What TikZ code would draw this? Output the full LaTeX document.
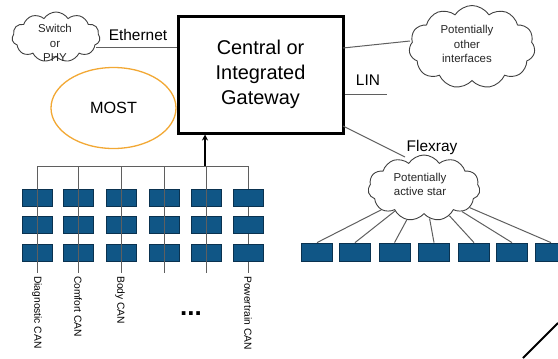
\documentclass[tikz,border=0pt]{standalone}
\usepackage{fontspec}
\setmainfont{Liberation Sans}
\usetikzlibrary{shapes.symbols,shapes.geometric,arrows.meta,calc}
\definecolor{ecublue}{RGB}{16,86,134}
\definecolor{ecuedge}{RGB}{10,50,80}
\definecolor{wire}{RGB}{95,95,95}
\definecolor{mostorange}{RGB}{242,168,52}
\newcommand{\fsz}[2]{\fontsize{#1}{#2}\selectfont}

\begin{document}
\begin{tikzpicture}[x=1bp,y=-1bp,
  ecu/.style={draw=ecuedge, fill=ecublue, line width=0.8bp,
    minimum width=30bp, minimum height=17bp, inner sep=0pt},
  wireline/.style={draw=wire, line width=1bp},
  puff/.style={cloud, draw=black!75, line width=0.9bp, cloud puffs=11,
    cloud puff arc=115, cloud ignores aspect, inner sep=0pt},
  puffText/.style={align=center, font=\fsz{11.5}{14.5}, text=black!85, inner sep=0pt},
  tag/.style={font=\fsz{15.5}{18}, inner sep=0pt},
  busLabel/.style={rotate=-90, anchor=west, font=\fsz{10.3}{12}, inner sep=2bp}
]
\useasboundingbox (0,0) rectangle (558,358);

% gateway
\node[draw, line width=3bp, minimum width=165bp, minimum height=117bp,
      align=center, font=\fsz{20}{25}] (gw) at (260.5,74.5)
      {Central or\\Integrated\\Gateway};

% Ethernet switch
\node[puff, minimum width=88bp, minimum height=50bp] (sw) at (56,37) {};
\node[puffText] (swt) at (55,43) {Switch\\or\\PHY};
\coordinate (ethA) at (96,47);
\draw[wireline] (ethA) -- (ethA -| gw.west);
\node[tag] (eth) at (138,35) {Ethernet};

% MOST ring
\node[ellipse, draw=mostorange, line width=1.3bp, minimum width=125bp,
      minimum height=81bp, font=\fsz{16.3}{18}] (most) at (113.5,108) {MOST};

% other interfaces
\node[puff, minimum width=126bp, minimum height=83bp] (oth) at (472,47) {};
\node[puffText] (otht) at (467,44) {Potentially\\other\\interfaces};
\coordinate (othA) at (343,48);
\coordinate (othB) at (410,41);
\draw[wireline] (othA) -- (othB);

% LIN
\coordinate (linB) at (387,94);
\draw[wireline] (linB -| gw.east) -- (linB);
\node[tag] (lin) at (368,80) {LIN};

% Flexray
\node[puff, minimum width=112bp, minimum height=66bp] (star) at (424,188) {};
\node[puffText] (start) at (420,184.5) {Potentially\\active star};
\coordinate (flxA) at (343,126);
\coordinate (flxB) at (405,157);
\draw[wireline] (flxA) -- (flxB);
\node[tag] (flx) at (432,148) {Flexray};

\foreach \i/\x in {1/317,2/355,3/394.5,4/434,5/474,6/512,7/551}{
  \node[ecu, minimum width=31bp, minimum height=18bp] (r\i) at (\x,252) {};
  \draw[wireline] (star) -- (r\i.north);
}

% CAN buses
\coordinate (busL) at (37,166);
\coordinate (busR) at (248,166);
\draw[wireline] (busL) -- (busR);
\draw[wireline] (busR) -- (248,273);
\foreach \c/\x in {1/37,2/78,3/121,4/164,5/206,6/248}{
  \foreach \r/\y in {1/198,2/224.5,3/253}{
    \node[ecu] (c\c r\r) at (\x,\y) {};
  }
}
\foreach \x in {37,78,121,164,206}{
  \draw[wireline] (\x,166) -- (\x,273);
}
\node[busLabel] (l1) at (37,274) {Diagnostic CAN};
\node[busLabel] (l2) at (78,274) {Comfort CAN};
\node[busLabel] (l3) at (120,274) {Body CAN};
\node[busLabel] (l6) at (248,274) {Powertrain CAN};
\node[font=\fsz{26}{28}\bfseries, inner sep=0pt] (dots) at (191,314) {...};

% uplink to the gateway
\coordinate (arrA) at (205,166);
\draw[line width=2bp, -{Stealth[length=6bp,width=6bp]}] (arrA) -- (arrA |- gw.south);

% corner stroke
\coordinate (dgA) at (523,358);
\coordinate (dgB) at (558,323);
\draw[line width=2bp] (dgA) -- (dgB);
\end{tikzpicture}
\end{document}
